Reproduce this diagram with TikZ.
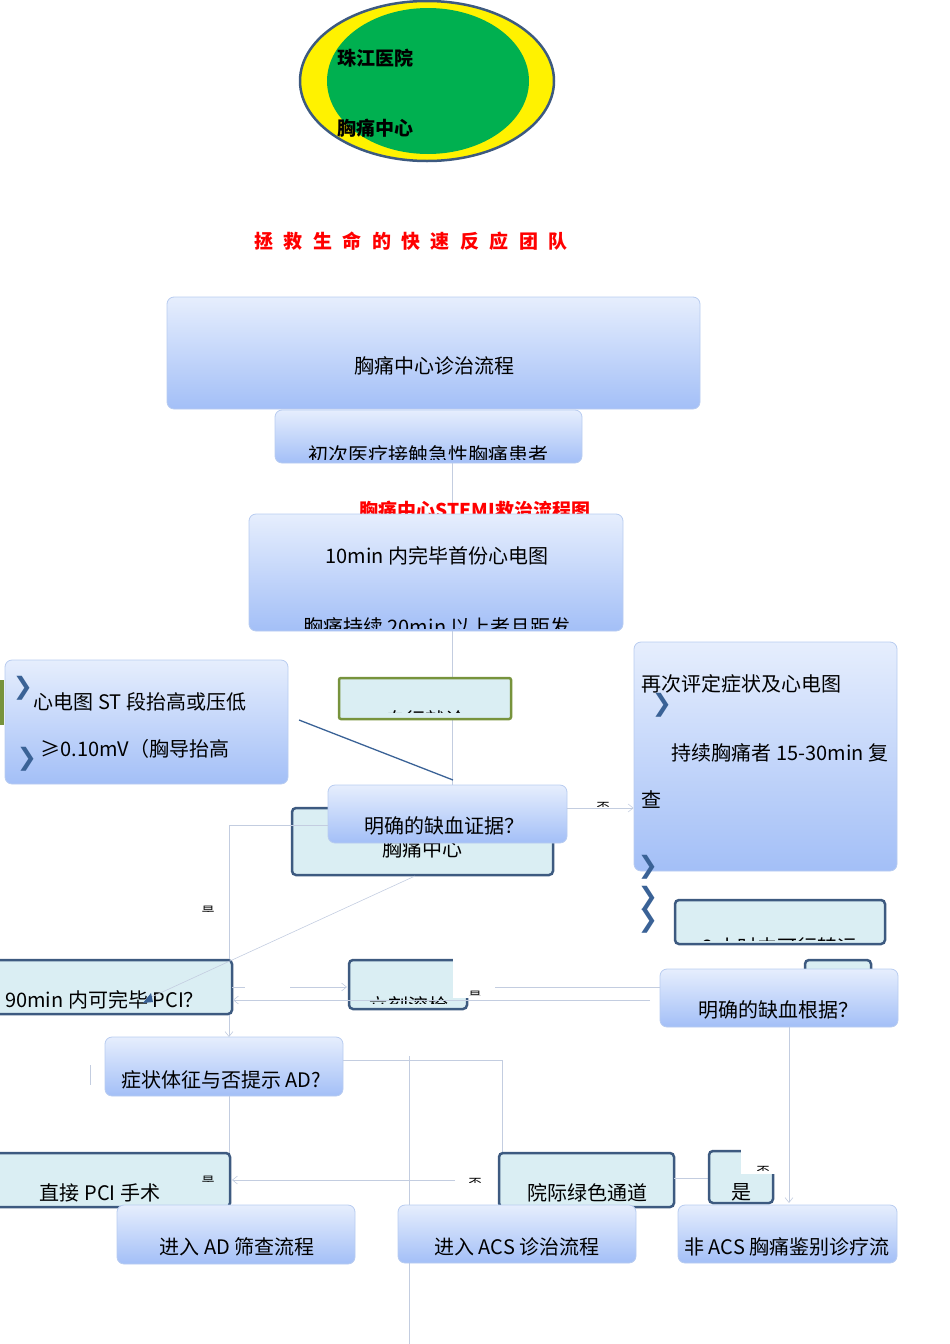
\documentclass[tikz,border=0pt]{standalone}
\usepackage{fontspec}
\setmainfont{Noto Sans CJK SC}
\newfontfamily\dv{DejaVu Sans}
\usetikzlibrary{arrows.meta,shapes.geometric}
\definecolor{gtop}{HTML}{E6EEFD}
\definecolor{gbot}{HTML}{A3BFF7}
\definecolor{gbd}{HTML}{B8CCF0}
\definecolor{dbd}{HTML}{3D5A80}
\definecolor{lfill}{HTML}{DAEEF3}
\definecolor{olive}{HTML}{77933C}
\definecolor{cline}{HTML}{C3CDE0}
\definecolor{chev}{HTML}{3A6296}
\tikzset{
 gbox/.style={draw=gbd,rounded corners=7pt,top color=gtop,bottom color=gbot,line width=0.8pt,inner sep=0pt},
 dbox/.style={draw=dbd,rounded corners=4pt,fill=lfill,line width=2.5pt,inner sep=0pt},
 obox/.style={draw=olive,rounded corners=2pt,fill=lfill,line width=2.5pt,inner sep=0pt},
 txt/.style={font=\fontsize{20}{22}\selectfont,inner sep=0pt},
 btxt/.style={font=\bfseries\fontsize{19}{21}\selectfont,inner sep=0pt},
 lbl/.style={font=\fontsize{13}{15}\selectfont,inner sep=0pt},
 cl/.style={draw=cline,line width=0.6pt},
 ca/.style={cl,-{Straight Barb[length=5pt,width=8pt]}},
 chv/.style={font=\dv\bfseries\fontsize{24}{24}\selectfont,text=chev,inner sep=0pt,text height=14pt,text depth=0pt},
}
\newcommand\bx[6]{\node[#1,minimum width={(#5-#3)*1pt},minimum height={(#6-#4)*1pt}] (#2) at ({(#3+#5)/2},{(#4+#6)/2}) {};}
\begin{document}
\begin{tikzpicture}[x=1pt,y=-1pt]
\useasboundingbox (0,0) rectangle (950,1344);
% ellipse
\node[ellipse,draw=dbd,line width=2.5pt,fill=yellow,minimum width=254,minimum height=160,inner sep=0pt] (ov) at (427,81) {};
\node[ellipse,fill={rgb,255:red,0;green,176;blue,80},minimum width=202,minimum height=146,inner sep=0pt] (ovi) at (428,81) {};
\node[btxt] (h1) at (375,58) {珠江医院};
\node[btxt] (h2) at (375,128) {胸痛中心};
\node[btxt,text=red] (slogan) at (411,241) {拯\hspace{0.55em}救\hspace{0.55em}生\hspace{0.55em}命\hspace{0.55em}的\hspace{0.55em}快\hspace{0.55em}速\hspace{0.55em}反\hspace{0.55em}应\hspace{0.55em}团\hspace{0.55em}队};
% thin lines behind
\draw[cl] (452,463) -- (452,785);
\draw[cl] (409,1056) -- (409,1344);
% top boxes
\bx{gbox}{b1}{167}{297}{700}{409}
\node[txt] (t1) at (434,366) {胸痛中心诊治流程};
\bx{gbox}{b2}{275}{410}{582}{463}
\begin{scope}\clip (275,410) rectangle (582,459);
\node[txt] (t2) at (428,455) {初次医疗接触急性胸痛患者};\end{scope}
\begin{scope}\clip (300,490) rectangle (650,514);
\node[btxt,text=red] (t3) at (475,510) {胸痛中心STEMI救治流程图};\end{scope}
\bx{gbox}{b3}{249}{514}{623}{631}
\node[txt] (t4) at (437,556) {10min 内完毕首份心电图};
\begin{scope}\clip (249,600) rectangle (623,628);
\node[txt] (t5) at (437,627) {胸痛持续 20min 以上者且距发};\end{scope}
% left box
\fill[olive] (0,680) rectangle (4,725);
\bx{gbox}{b4}{5}{660}{288}{784}
\node[txt] (t6) at (140,702) {心电图 ST 段抬高或压低};
\node[txt] (t7) at (135,749) {≥0.10mV（胸导抬高};
\node[chv] (c1) at (23,687) {❯};
\node[chv] (c2) at (27,758) {❯};
\bx{obox}{b5}{339}{678}{511}{719}
\begin{scope}\clip (339,678) rectangle (511,712);
\node[txt] (t8) at (425,720) {自行就诊};\end{scope}
\draw[draw=chev,line width=1.3pt] (299,720) -- (453,780);
% middle
\bx{dbox}{b6}{292}{808}{553}{875}
\node[txt] (t9) at (422,849) {胸痛中心};
\bx{gbox}{b7}{328}{785}{567}{843}
\node[txt] (t10) at (444,826) {明确的缺血证据？};
% right
\bx{gbox}{b8}{634}{642}{897}{871}
\node[txt,anchor=west] (t11) at (641,684) {再次评定症状及心电图};
\node[txt] (t12) at (780,753) {持续胸痛者 15-30min 复};
\node[txt] (t13) at (651,800) {查};
\node[chv] (c3) at (662,704) {❯};
\node[chv] (c4) at (648,866) {❯};
\node[chv] (c5) at (648,897) {❯};
\node[chv] (c6) at (648,920) {❯};
\bx{dbox}{b9}{675}{900}{885}{944}
\begin{scope}\clip (675,900) rectangle (885,940);
\node[txt] (t14) at (780,947) {2 小时内可行转运};\end{scope}
\bx{dbox}{b10}{805}{960}{871}{985}
\bx{gbox}{b11}{660}{969}{898}{1027}
\node[txt] (t15) at (778,1010) {明确的缺血根据？};
% connectors
\coordinate (k1) at (229,825);
\draw[ca] (b7.east |- 0,808) -- (b8.west |- 0,808);
\begin{scope}\clip (590,795) rectangle (620,806);\node[lbl] (l1) at (603,808) {否};\end{scope}
\draw[ca] (b7.west |- k1) -- (k1) -- (229,1037);
\begin{scope}\clip (200,900) rectangle (220,911);\node[lbl] (l2) at (208,912) {是};\end{scope}
\bx{dbox}{b12}{-5}{960}{232}{1014}
\node[txt,anchor=west] (t16) at (5,1000) {90min 内可完毕 PCI？};
\draw[cl] (415,876) -- (145,1000);
\fill[chev] (143,1003) -- (151,993) -- (153,1002) -- cycle;
\bx{dbox}{b13}{349}{960}{467}{1009}
\begin{scope}\clip (349,960) rectangle (467,1003);
\node[txt] (t17) at (408,1006) {立刻溶栓};\end{scope}
\fill[white] (453,955) rectangle (471,998);
\begin{scope}\clip (465,985) rectangle (485,995);\node[lbl] (l3) at (475,997) {是};\end{scope}
\draw[cl] (232,987) -- (245,987);
\draw[ca] (290,987) -- (347,987);
\draw[cl] (495,987) -- (660,987);
\draw[ca] (650,1000) -- (233,1000);
\bx{gbox}{b14}{105}{1037}{343}{1096}
\node[txt] (t18) at (221,1080) {症状体征与否提示 AD?};
\draw[cl] (90,1065) -- (90,1085);
\draw[cl] (229,1096) -- (229,1205);
\draw[ca] (343,1060) -- (502,1060) -- (502,1205);
\draw[ca] (789,1027) -- (789,1203);
\bx{dbox}{b15}{-5}{1153}{230}{1207}
\node[txt] (t19) at (100,1193) {直接 PCI 手术};
\begin{scope}\clip (200,1170) rectangle (220,1181);\node[lbl] (l4) at (208,1182) {是};\end{scope}
\bx{dbox}{b16}{499}{1153}{674}{1207}
\node[txt] (t20) at (587,1193) {院际绿色通道};
\draw[ca] (455,1180) -- (232,1180);
\begin{scope}\clip (465,1172) rectangle (485,1182);\node[lbl] (l5) at (475,1184) {否};\end{scope}
\draw[cl] (674,1178) -- (709,1178);
\bx{dbox}{b17}{709}{1151}{773}{1203}
\node[txt] (t21) at (741,1192) {是};
\fill[white] (741,1148) rectangle (776,1174);
\begin{scope}\clip (753,1160) rectangle (773,1170);\node[lbl] (l6) at (763,1172) {否};\end{scope}
\bx{gbox}{b18}{117}{1205}{355}{1264}
\node[txt] (t22) at (237,1247) {进入 AD 筛查流程};
\bx{gbox}{b19}{398}{1205}{636}{1263}
\node[txt] (t23) at (517,1247) {进入 ACS 诊治流程};
\bx{gbox}{b20}{678}{1205}{897}{1263}
\node[txt] (t24) at (787,1247) {非 ACS 胸痛鉴别诊疗流};
\end{tikzpicture}
\end{document}
